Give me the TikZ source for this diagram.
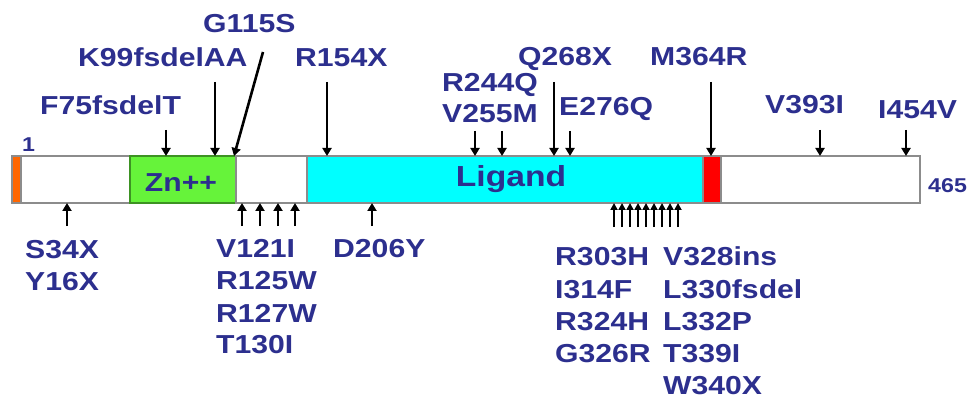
\documentclass[tikz,border=0pt]{standalone}
\usepackage{fontspec}
\setmainfont{Liberation Sans}[FakeStretch=1.16]
\usetikzlibrary{arrows.meta}
\definecolor{lbl}{HTML}{2C2F8E}
\definecolor{zng}{HTML}{66F33A}
\definecolor{lig}{HTML}{00FFFF}
\definecolor{orn}{HTML}{FF6600}
\definecolor{redseg}{HTML}{FF0000}
\definecolor{edge}{HTML}{8C8C8C}
\begin{document}
\begin{tikzpicture}[x=1pt,y=-1pt,
  mut/.style={font=\fontsize{26}{26}\selectfont\bfseries, text=lbl, anchor=base west, inner sep=0pt},
  seg/.style={draw=edge, line width=1.3pt, anchor=north west, inner sep=0pt, outer sep=0pt, minimum height=47pt},
  lng/.style={-{Triangle[length=8pt,width=9pt]}, line width=2.6pt, black},
  shrt/.style={-{Triangle[length=8pt,width=9pt]}, line width=2.4pt, black},
  tiny/.style={-{Triangle[length=7pt,width=7pt]}, line width=2.1pt, black}]
\useasboundingbox (0,0) rectangle (974,398);
% bar segments
\node[seg, fill=white, minimum width=109pt] (w1) at (21,156) {};
\node[seg, fill=zng, minimum width=106pt, draw=zng!60!black] (zn) at (130,156) {};
\node[seg, fill=white, minimum width=71pt] (w2) at (236,156) {};
\node[seg, fill=lig, minimum width=396pt] (lg) at (307,156) {};
\node[seg, fill=redseg, minimum width=18pt] (rd) at (703,156) {};
\node[seg, fill=white, minimum width=199pt] (w3) at (721,156) {};
\node[seg, fill=orn, minimum width=9pt] (or) at (12,156) {};
% inner texts
\node[mut, anchor=base] (zntxt) at (181,192) {Zn++};
\node[mut, anchor=base, font=\fontsize{29}{29}\selectfont\bfseries] (lgtxt) at (511,187) {Ligand};
\node[mut, font=\fontsize{20}{20}\selectfont\bfseries] (one) at (22,152) {1};
\node[mut, font=\fontsize{20}{20}\selectfont\bfseries] (end) at (928,193) {465};
% top labels
\node[mut] (g115) at (203,33) {G115S};
\node[mut] (k99) at (78,67) {K99fsdelAA};
\node[mut] (r154) at (295,67) {R154X};
\node[mut] (q268) at (518,66) {Q268X};
\node[mut] (m364) at (650,66) {M364R};
\node[mut] (f75) at (40,115) {F75fsdelT};
\node[mut] (r244) at (442,92) {R244Q};
\node[mut] (v255) at (442,123) {V255M};
\node[mut] (e276) at (559,116) {E276Q};
\node[mut] (v393) at (765,114) {V393I};
\node[mut] (i454) at (878,119) {I454V};
% bottom labels
\node[mut] (s34) at (25,258) {S34X};
\node[mut] (y16) at (25,290) {Y16X};
\node[mut] (v121) at (216,257) {V121I};
\node[mut] (r125) at (216,289) {R125W};
\node[mut] (r127) at (216,322) {R127W};
\node[mut] (t130) at (216,353) {T130I};
\node[mut] (d206) at (333,257) {D206Y};
\node[mut] (r303) at (555,265) {R303H};
\node[mut] (i314) at (555,298) {I314F};
\node[mut] (r324) at (555,330) {R324H};
\node[mut] (g326) at (555,362) {G326R};
\node[mut] (v328) at (663,265) {V328ins};
\node[mut] (l330) at (663,298) {L330fsdel};
\node[mut] (l332) at (663,330) {L332P};
\node[mut] (t339) at (663,362) {T339I};
\node[mut] (w340) at (663,394) {W340X};
% top arrows
\foreach \n/\x/\y/\s in {k/215/82/lng, r/327/82/lng, q/554/82/lng, m/711/82/lng,
  f/166/130/shrt, a/475/131/shrt, b/502/131/shrt, e/570/131/shrt, v/820/130/shrt, i/906/130/shrt}{
  \coordinate (s\n) at (\x,\y);
  \coordinate (t\n) at (\x,156);
  \draw[\s] (s\n) -- (t\n);
}
\coordinate (sg) at (263,52);
\coordinate (tg) at (234,156);
\draw[lng] (sg) -- (tg);
% bottom arrows
\foreach \n/\x in {1/67, 2/242, 3/260, 4/278, 5/295, 6/372}{
  \coordinate (bs\n) at (\x,226);
  \coordinate (bt\n) at (\x,203);
  \draw[shrt] (bs\n) -- (bt\n);
}
\foreach \x [count=\i] in {614,622,630,638,646,654,662,670,678}{
  \coordinate (cs\i) at (\x,227);
  \coordinate (ct\i) at (\x,203);
  \draw[tiny] (cs\i) -- (ct\i);
}
\end{tikzpicture}
\end{document}
